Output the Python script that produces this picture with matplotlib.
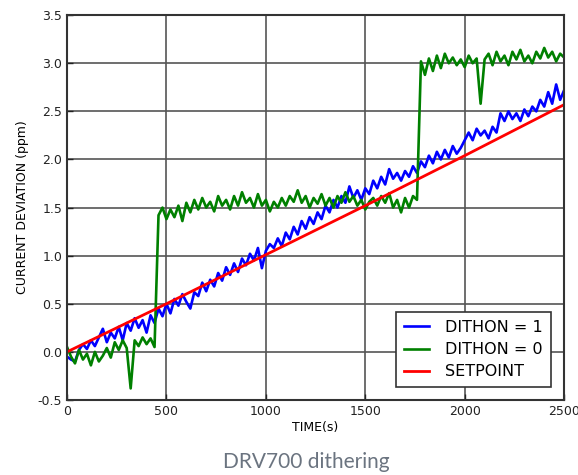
import numpy as np
import matplotlib
matplotlib.use("Agg")
import matplotlib.pyplot as plt

# ---- data ----
time_step = 20
blue = [-0.05, -0.08, -0.10, 0.02, 0.08, 0.03, 0.12, 0.06, 0.15, 0.24,
        0.10, 0.20, 0.14, 0.26, 0.12, 0.30, 0.22, 0.35, 0.25, 0.33,
        0.20, 0.38, 0.30, 0.45, 0.37, 0.50, 0.40, 0.55, 0.48, 0.60,
        0.52, 0.45, 0.62, 0.58, 0.72, 0.63, 0.75, 0.68, 0.82, 0.74,
        0.88, 0.80, 0.92, 0.83, 0.97, 0.90, 1.02, 0.95, 1.08, 0.87,
        1.05, 1.12, 1.08, 1.18, 1.10, 1.24, 1.17, 1.30, 1.22, 1.36,
        1.28, 1.40, 1.33, 1.45, 1.38, 1.52, 1.45, 1.58, 1.50, 1.62,
        1.55, 1.72, 1.60, 1.68, 1.58, 1.70, 1.64, 1.78, 1.70, 1.82,
        1.74, 1.90, 1.80, 1.86, 1.78, 1.88, 1.82, 1.93, 1.86, 1.98,
        1.92, 2.04, 1.96, 2.08, 2.00, 2.10, 2.02, 2.14, 2.06, 2.12,
        2.20, 2.28, 2.20, 2.32, 2.25, 2.30, 2.22, 2.34, 2.28, 2.48,
        2.40, 2.50, 2.42, 2.48, 2.40, 2.52, 2.45, 2.55, 2.50, 2.62,
        2.55, 2.70, 2.58, 2.78, 2.62, 2.72]
green = [0.05, -0.05, -0.12, 0.02, -0.08, -0.02, -0.14, 0.00, -0.10, -0.04,
         0.04, -0.06, 0.10, 0.02, 0.12, 0.04, -0.38, 0.12, 0.06, 0.15,
         0.08, 0.14, 0.05, 1.42, 1.50, 1.38, 1.48, 1.40, 1.52, 1.36,
         1.55, 1.45, 1.58, 1.48, 1.60, 1.50, 1.56, 1.46, 1.62, 1.52,
         1.58, 1.48, 1.62, 1.52, 1.66, 1.55, 1.60, 1.50, 1.64, 1.52,
         1.58, 1.46, 1.56, 1.50, 1.60, 1.52, 1.62, 1.56, 1.68, 1.55,
         1.62, 1.50, 1.60, 1.54, 1.64, 1.52, 1.60, 1.50, 1.62, 1.55,
         1.66, 1.56, 1.62, 1.52, 1.58, 1.48, 1.56, 1.60, 1.52, 1.62,
         1.55, 1.65, 1.50, 1.58, 1.45, 1.60, 1.50, 1.62, 1.58, 3.02,
         2.88, 3.05, 2.92, 3.08, 2.95, 3.10, 3.00, 3.06, 2.98, 3.04,
         2.96, 3.08, 3.00, 3.05, 2.58, 3.04, 3.10, 2.98, 3.12, 3.02,
         3.08, 2.98, 3.12, 3.04, 3.14, 3.02, 3.08, 3.00, 3.12, 3.05,
         3.16, 3.06, 3.12, 3.02, 3.10, 3.06]
setpoint_t = [0, 500, 1000, 1500, 2000, 2500]
setpoint = [0.0, 0.50, 1.01, 1.52, 2.04, 2.57]
labels = ["DITHON = 1", "DITHON = 0", "SETPOINT"]
caption = "DRV700 dithering"

t = np.arange(len(blue)) * time_step

fig = plt.figure(figsize=(5.78, 4.75), dpi=100)
ax = fig.add_axes([0.116, 0.158, 0.860, 0.810])

ax.plot(t, blue, color="#0000ff", lw=1.9, label=labels[0])
ax.plot(t, green, color="#008000", lw=1.9, label=labels[1])
ax.plot(setpoint_t, setpoint, color="#ff0000", lw=2.0, label=labels[2])

ax.set_xlim(0, 2500)
ax.set_ylim(-0.5, 3.5)
ax.set_xticks(np.arange(0, 2501, 500))
ax.set_yticks(np.arange(-0.5, 3.51, 0.5))
ax.yaxis.set_major_formatter(matplotlib.ticker.FormatStrFormatter("%.1f"))
ax.grid(True, color="#555555", lw=1.2, ls="-")
ax.set_axisbelow(True)
ax.tick_params(direction="in", length=4, width=1, labelsize=9, colors="#222222")
for s in ax.spines.values():
    s.set_color("#333333")
    s.set_linewidth(1.5)

ax.set_xlabel("TIME(s)", fontsize=9, labelpad=2)
ax.set_ylabel("CURRENT DEVIATION (ppm)", fontsize=9, labelpad=6)

leg = ax.legend(loc="lower right", fontsize=11.5, frameon=True, fancybox=False,
                framealpha=1, edgecolor="#333333", handlelength=1.6,
                handletextpad=1.0, borderpad=0.5, labelspacing=0.45,
                bbox_to_anchor=(0.99, 0.012))
leg.get_frame().set_linewidth(1.2)

fig.text(0.53, 0.027, caption, ha="center", va="center", fontsize=15,
         family="Lato", color="#6b7480")

fig.savefig("out.png", dpi=100)
